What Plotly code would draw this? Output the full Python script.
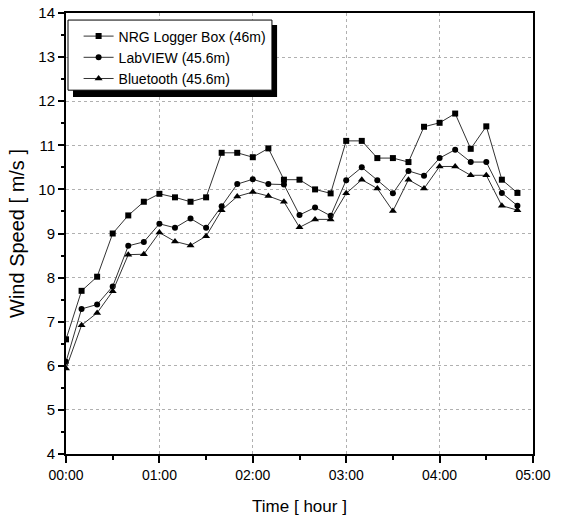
import plotly.graph_objects as go

minutes = [i * 10 for i in range(30)]

nrg = [6.60, 7.70, 8.02, 9.00, 9.41, 9.72, 9.90, 9.82, 9.72, 9.82,
       10.83, 10.83, 10.73, 10.93, 10.22, 10.22, 10.00, 9.91, 11.10, 11.10,
       10.71, 10.71, 10.62, 11.42, 11.51, 11.72, 10.92, 11.43, 10.22, 9.92]
labview = [6.09, 7.29, 7.39, 7.80, 8.72, 8.81, 9.22, 9.13, 9.34, 9.13,
           9.62, 10.12, 10.23, 10.12, 10.11, 9.42, 9.59, 9.40, 10.21, 10.50,
           10.21, 9.91, 10.42, 10.31, 10.71, 10.90, 10.62, 10.62, 9.92, 9.63]
bluetooth = [5.94, 6.92, 7.20, 7.69, 8.52, 8.53, 9.02, 8.82, 8.73, 8.94,
             9.53, 9.84, 9.94, 9.85, 9.72, 9.14, 9.32, 9.32, 9.91, 10.22,
             10.02, 9.51, 10.22, 10.02, 10.52, 10.52, 10.32, 10.32, 9.63, 9.53]

series_names = ["NRG Logger Box (46m)", "LabVIEW (45.6m)", "Bluetooth (45.6m)"]
series_values = [nrg, labview, bluetooth]
series_symbols = ["square", "circle", "triangle-up"]
series_sizes = [6, 6, 7]

x_tick_vals = [0, 60, 120, 180, 240, 300]
x_tick_text = ["00:00", "01:00", "02:00", "03:00", "04:00", "05:00"]

FONT = "Arial, Liberation Sans, sans-serif"

fig = go.Figure()
for name, vals, sym, sz in zip(series_names, series_values, series_symbols, series_sizes):
    fig.add_trace(go.Scatter(
        x=minutes, y=vals, name=name, mode="lines+markers",
        line=dict(color="#333333", width=1),
        marker=dict(symbol=sym, size=sz, color="black"),
    ))

# legend box with drop shadow (paper coordinates)
fig.add_shape(type="rect", xref="paper", yref="paper",
              x0=0.015, x1=0.452, y0=0.8095, y1=0.973,
              fillcolor="black", line=dict(width=0), layer="above")
fig.add_shape(type="rect", xref="paper", yref="paper",
              x0=0.0043, x1=0.441, y0=0.825, y1=0.984,
              fillcolor="white", line=dict(color="black", width=1), layer="above")

fig.update_layout(
    width=564, height=518,
    margin=dict(l=66, r=31, t=13, b=64, autoexpand=False),
    paper_bgcolor="white", plot_bgcolor="white",
    font=dict(family=FONT, color="black", size=13),
    showlegend=True,
    legend=dict(x=0.027, y=0.983, xanchor="left", yanchor="top",
                bgcolor="rgba(0,0,0,0)", borderwidth=0,
                font=dict(family=FONT, size=14, color="black"),
                itemwidth=30, tracegroupgap=0),
    xaxis=dict(
        range=[0, 300], tickvals=x_tick_vals, ticktext=x_tick_text,
        showline=True, linecolor="black", linewidth=2, mirror=True,
        ticks="outside", ticklen=7, tickwidth=1.5, tickcolor="black",
        minor=dict(dtick=30, ticks="outside", ticklen=4, tickcolor="black", showgrid=False),
        showgrid=True, gridcolor="#b0b0b0", griddash="dot", gridwidth=1,
        zeroline=False, ticklabeloverflow="allow", automargin=False,
        tickfont=dict(size=14),
        title=dict(text="Time [ hour ]", font=dict(size=17), standoff=18),
    ),
    yaxis=dict(
        range=[4, 14], dtick=1, tick0=4,
        showline=True, linecolor="black", linewidth=2, mirror=True,
        ticks="outside", ticklen=6, tickwidth=1.5, tickcolor="black",
        minor=dict(dtick=0.5, ticks="outside", ticklen=3, tickcolor="black", showgrid=False),
        showgrid=True, gridcolor="#b0b0b0", griddash="dot", gridwidth=1,
        zeroline=False, ticklabeloverflow="allow", automargin=False,
        tickfont=dict(size=15),
        title=dict(text="Wind Speed [ m/s ]", font=dict(size=20), standoff=8),
    ),
)

fig.write_html("out.html", config={"displayModeBar": False},
               post_script="document.body.style.margin='0';")
